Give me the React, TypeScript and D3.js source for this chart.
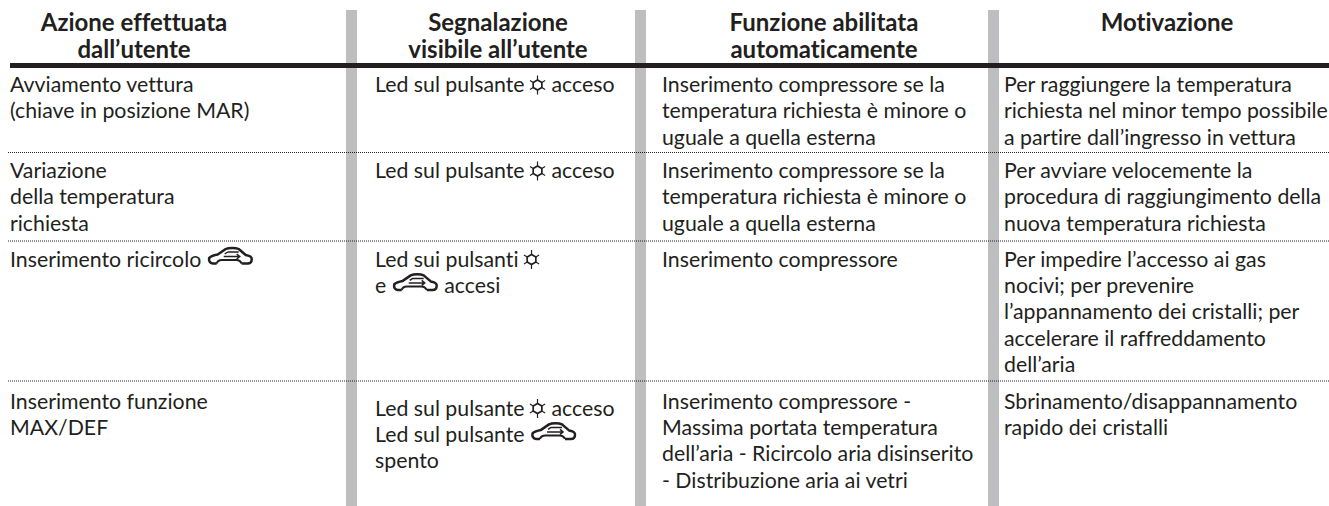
import React, { useEffect, useRef } from "react";
import * as d3 from "d3";

// "*" stands for the sun/snow icon, "@" for the recirculation car icon
const headers: string[][] = [
  ["Azione effettuata", "dall’utente"],
  ["Segnalazione", "visibile all’utente"],
  ["Funzione abilitata", "automaticamente"],
  ["Motivazione"],
];
const actions: string[][] = [
  ["Avviamento vettura", "(chiave in posizione MAR)"],
  ["Variazione", "della temperatura", "richiesta"],
  ["Inserimento ricircolo @"],
  ["Inserimento funzione", "MAX/DEF"],
];
const signals: string[][] = [
  ["Led sul pulsante * acceso"],
  ["Led sul pulsante * acceso"],
  ["Led sui pulsanti *", "e @ accesi"],
  ["Led sul pulsante * acceso", "Led sul pulsante @", "spento"],
];
const functions: string[][] = [
  ["Inserimento compressore se la", "temperatura richiesta è minore o", "uguale a quella esterna"],
  ["Inserimento compressore se la", "temperatura richiesta è minore o", "uguale a quella esterna"],
  ["Inserimento compressore"],
  ["Inserimento compressore -", "Massima portata temperatura", "dell’aria - Ricircolo aria disinserito", "- Distribuzione aria ai vetri"],
];
const reasons: string[][] = [
  ["Per raggiungere la temperatura", "richiesta nel minor tempo possibile", "a partire dall’ingresso in vettura"],
  ["Per avviare velocemente la", "procedura di raggiungimento della", "nuova temperatura richiesta"],
  ["Per impedire l’accesso ai gas", "nocivi; per prevenire", "l’appannamento dei cristalli; per", "accelerare il raffreddamento", "dell’aria"],
  ["Sbrinamento/disappannamento", "rapido dei cristalli"],
];
const columns = [actions, signals, functions, reasons];

const width = 1329;
const height = 506;
const ink = "#231f20";
const columnX = [10, 375, 662, 1004];
const headerX = [134, 498, 824, 1167];
const separators = [346, 635, 988];
const rowTop = [66, 152.5, 241, 381];
const rowBaseline = [92, 178, 266.5, 408.5];
const lineHeight = 26.4;

const drawSun = (g: any, x: number, y: number) => {
  const s = g.append("g").attr("transform", `translate(${x},${y})`).attr("fill", "none").attr("stroke", ink);
  const hex = d3.range(6).map((i) => {
    const t = (i * Math.PI) / 3;
    return [5 * Math.sin(t), -5 * Math.cos(t)] as [number, number];
  });
  s.append("path").attr("stroke-width", 1.7).attr("d", d3.line().curve(d3.curveLinearClosed)(hex));
  s.append("path").attr("stroke-width", 1.2)
    .attr("d", "M0,-9.5V-5M0,5V9.5M-7.6,-4.4L-4.3,-2.5M7.6,-4.4L4.3,-2.5M-7.6,4.4L-4.3,2.5M7.6,4.4L4.3,2.5");
};

const drawCar = (g: any, x: number, y: number) => {
  const c = g.append("g").attr("transform", `translate(${x},${y})`).attr("fill", "none").attr("stroke", ink);
  c.append("path").attr("stroke-width", 2.5).attr("stroke-linejoin", "round")
    .attr("d", "M8,-3H4C1,-3 0,-6 0.5,-8.5C3,-11 6,-11.5 9,-12L17,-17.5C20,-19 27,-19 30,-17.5L37,-11.5C40,-11 43,-10 43,-7.5C43,-5 42,-3 39,-3H33");
  c.append("path").attr("stroke-width", 2).attr("d", "M8,-3C9,-6 11,-6.5 13,-6.5H28C30,-6.5 32,-5 33,-3");
  c.append("path").attr("stroke-width", 1.5).attr("d", "M19,-14.5H30M15,-10H31M28,-12.5L31,-10L28,-7.5M19,-14.5L16,-12.5");
};

export default function App() {
  const ref = useRef<SVGSVGElement>(null);

  useEffect(() => {
    const svg = d3.select(ref.current);
    svg.selectAll("*").remove();

    const font = "Lato, 'Noto Sans', sans-serif";

    svg.append("g").selectAll("rect").data(separators).enter().append("rect")
      .attr("x", (d) => d).attr("y", 10).attr("width", 11).attr("height", 496).attr("fill", "#bcbec0");

    svg.append("rect").attr("x", 10).attr("y", 63).attr("width", 1319).attr("height", 5).attr("fill", ink);

    svg.append("g").selectAll("line").data(rowTop.slice(1)).enter().append("line")
      .attr("x1", 8).attr("x2", 1329).attr("y1", (d) => d).attr("y2", (d) => d)
      .attr("stroke", ink).attr("stroke-width", 1).attr("stroke-dasharray", "1 1");

    headers.forEach((lines, c) => {
      lines.forEach((t, i) => {
        svg.append("text").attr("x", headerX[c]).attr("y", 31 + i * 27)
          .attr("text-anchor", "middle").attr("font-family", font).attr("font-weight", 700)
          .attr("font-size", 24).attr("fill", ink).style("font-variant-ligatures", "none").text(t);
      });
    });

    columns.forEach((col, c) => {
      col.forEach((lines, r) => {
        // the signal cell of the last row sits a little lower than its neighbours
        const top = rowBaseline[r] + (c === 1 && r === 3 ? 7 : 0);
        lines.forEach((t, i) => {
          const y = top + i * lineHeight;
          let x = columnX[c];
          t.split(/([*@])/).forEach((part) => {
            if (part === "*") {
              drawSun(svg, x + 7.5, y - 7);
              x += 16;
            } else if (part === "@") {
              drawCar(svg, x + 2, y);
              x += 47;
            } else if (part) {
              const node = svg.append("text").attr("x", x).attr("y", y)
                .attr("font-family", font).attr("font-size", 21.3).attr("fill", ink)
                .style("white-space", "pre").style("font-variant-ligatures", "none").text(part);
              x += (node.node() as SVGTextElement).getComputedTextLength();
            }
          });
        });
      });
    });
  }, []);

  return <svg ref={ref} width={width} height={height} style={{ position: "absolute", left: 0, top: 0, background: "#fff" }} />;
}
